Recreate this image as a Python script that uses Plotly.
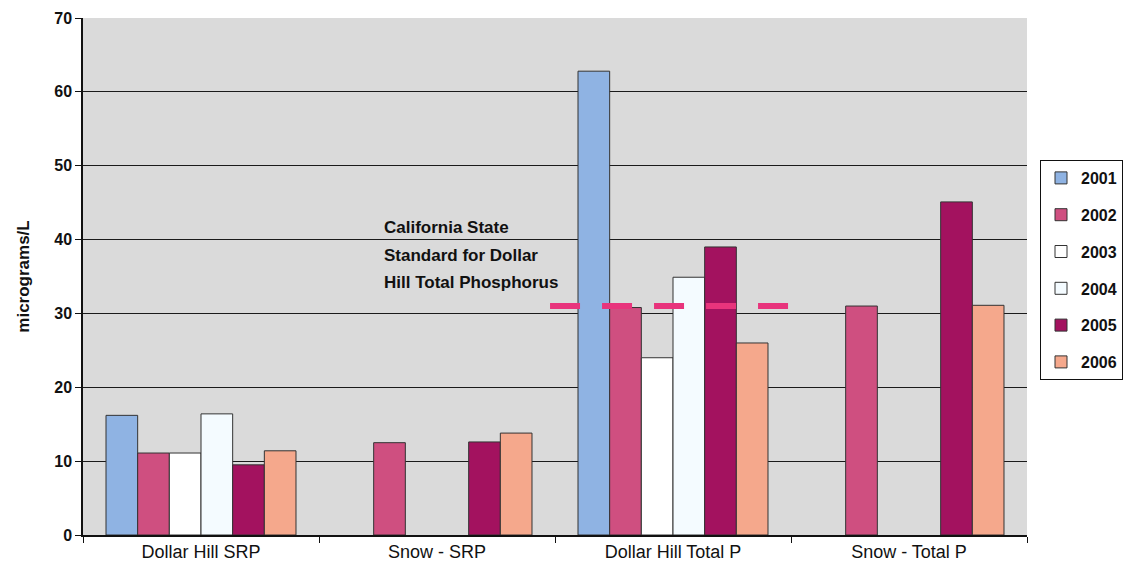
import plotly.graph_objects as go

categories = ["Dollar Hill SRP", "Snow - SRP", "Dollar Hill Total P", "Snow - Total P"]
years = ["2001", "2002", "2003", "2004", "2005", "2006"]
v2001 = [16.2, None, 62.8, None]
v2002 = [11.1, 12.5, 30.8, 31.0]
v2003 = [11.1, None, 24.0, None]
v2004 = [16.4, None, 34.9, None]
v2005 = [9.5, 12.6, 39.0, 45.1]
v2006 = [11.4, 13.8, 26.0, 31.1]
series = [v2001, v2002, v2003, v2004, v2005, v2006]
colors = ["#8fb3e3", "#cf4f80", "#ffffff", "#f4fbff", "#a3125f", "#f5a88c"]

standard_value = 31.0
standard_lines = ["California State", "Standard for Dollar", "Hill Total Phosphorus"]
standard_line_y = [41.6, 37.8, 34.2]

FONT = "Liberation Sans, Arial"

fig = go.Figure()
for yr, vals, c in zip(years, series, colors):
    fig.add_trace(go.Bar(
        x=categories, y=vals, name=yr, legendgroup=yr,
        marker=dict(color=c, line=dict(color="#333333", width=1)),
    ))

fig.add_shape(type="line", xref="x", yref="y",
              x0=1.479, x1=2.496, y0=standard_value, y1=standard_value,
              line=dict(color="#e8347c", width=6, dash="30px,22px"))

for txt, yy in zip(standard_lines, standard_line_y):
    fig.add_annotation(x=0.767, y=yy, xref="x", yref="y", text=txt,
                       showarrow=False, align="left", xanchor="left", yanchor="middle",
                       font=dict(family=FONT, size=17, color="#111111", weight="bold"))

fig.update_layout(
    width=1126, height=578,
    margin=dict(l=83, r=99, t=18, b=43, autoexpand=False),
    paper_bgcolor="white",
    plot_bgcolor="#dadada",
    barmode="group",
    bargap=0.195,
    bargroupgap=0,
    font=dict(family=FONT, color="#111111"),
    legend=dict(
        xref="container", yref="container",
        x=1040 / 1126, xanchor="left", y=1 - 160 / 578, yanchor="top",
        bordercolor="#111111", borderwidth=1, bgcolor="white",
        font=dict(size=16, color="#111111", weight="bold"),
        traceorder="grouped", tracegroupgap=13,
        itemwidth=30,
    ),
    showlegend=True,
)
fig.update_yaxes(
    range=[0, 70], dtick=10, showgrid=True, gridcolor="#1a1a1a", gridwidth=1.3,
    showline=True, linecolor="#111111", linewidth=1.5,
    ticks="outside", ticklen=6, tickcolor="#111111",
    tickfont=dict(size=16, family=FONT, color="#111111", weight="bold"),
    title=dict(text="<b>micrograms/L</b>", font=dict(size=17), standoff=20),
    zeroline=False,
)
fig.update_xaxes(
    showline=True, linecolor="#111111", linewidth=1.5,
    ticks="outside", ticklen=6, tickcolor="#111111", tickson="boundaries",
    tickfont=dict(size=18, color="#111111"),
    showgrid=False,
)

fig.write_html("out.html")
